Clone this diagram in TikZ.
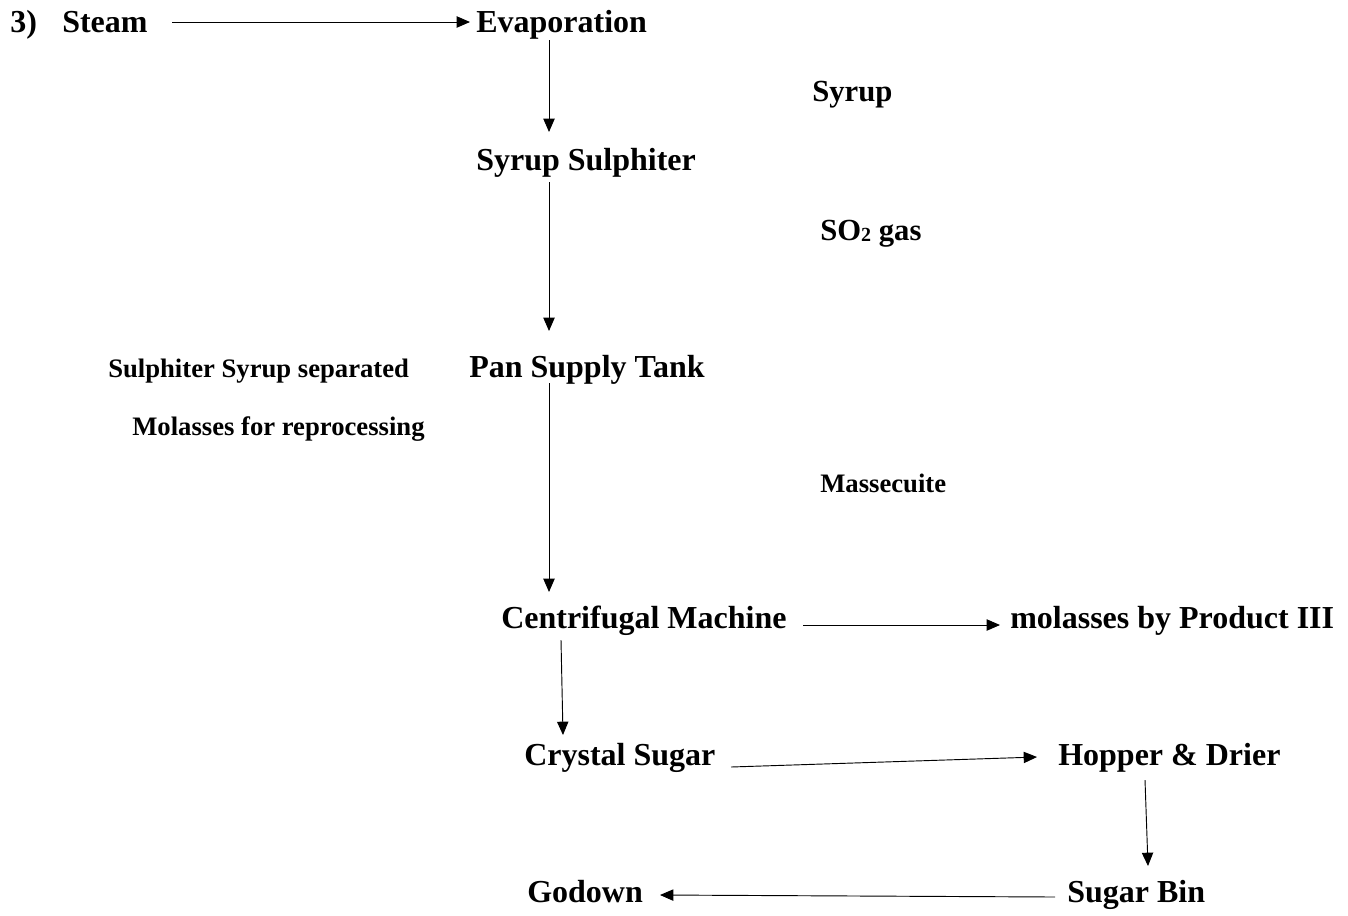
\documentclass[tikz,border=0pt]{standalone}
\usepackage{fontspec}
\setmainfont{Liberation Serif}
\usetikzlibrary{arrows.meta,calc}
\begin{document}
\begin{tikzpicture}[x=0.75pt,y=-0.75pt,
 lbl/.style={anchor=base west,inner sep=0,font=\fontsize{24}{28}\selectfont\bfseries},
 mid/.style={anchor=base west,inner sep=0,font=\fontsize{23}{27}\selectfont\bfseries},
 sml/.style={anchor=base west,inner sep=0,font=\fontsize{20}{24}\selectfont\bfseries},
 arr/.style={-{Triangle[length=10pt,width=8.5pt]},line width=0.7pt}]
\useasboundingbox (0,0) rectangle (1348,915);
\node[lbl] (num) at (10,32) {3)};
\node[lbl] (steam) at (62,32) {Steam};
\node[lbl] (evap) at (476,32) {Evaporation};
\node[mid] (syrup) at (812,101) {Syrup};
\node[lbl] (sulph) at (476,170) {Syrup Sulphiter};
\node[mid] (so2) at (820,240) {SO{\fontsize{15}{15}\selectfont\raisebox{-1pt}{2}} gas};
\node[lbl] (pan) at (469,377) {Pan Supply Tank};
\node[sml] (sep) at (108,377) {Sulphiter Syrup separated};
\node[sml] (mol1) at (132,435) {Molasses for reprocessing};
\node[sml] (mass) at (820,492) {Massecuite};
\node[lbl] (centri) at (501,628) {Centrifugal Machine};
\node[lbl] (mol3) at (1010,628) {molasses by Product III};
\node[lbl] (crystal) at (524,765) {Crystal Sugar};
\node[lbl] (hopper) at (1058,765) {Hopper \& Drier};
\node[lbl] (bin) at (1067,902) {Sugar Bin};
\node[lbl] (godown) at (527,902) {Godown};

\draw[arr] ($(steam.base west)+(110,-10)$) -- ($(evap.base west)+(-6,-10)$);
\draw[arr] ($(evap.base west)+(73,8)$) -- ($(sulph.base west)+(73,-38)$);
\draw[arr] ($(sulph.base west)+(73,12)$) -- ($(pan.base west)+(80,-46)$);
\draw[arr] ($(pan.base west)+(80,6)$) -- ($(centri.base west)+(48,-36)$);
\draw[arr] ($(centri.base west)+(302,-3)$) -- ($(mol3.base west)+(-10,-3)$);
\draw[arr] ($(centri.base west)+(60,12)$) -- ($(crystal.base west)+(39,-30)$);
\draw[arr] ($(crystal.base west)+(207,2)$) -- ($(hopper.base west)+(-21,-8)$);
\draw[arr] ($(hopper.base west)+(87,15)$) -- ($(bin.base west)+(81,-36)$);
\draw[arr] ($(bin.base west)+(-12,-5)$) -- ($(godown.base west)+(133,-7)$);
\end{tikzpicture}
\end{document}
